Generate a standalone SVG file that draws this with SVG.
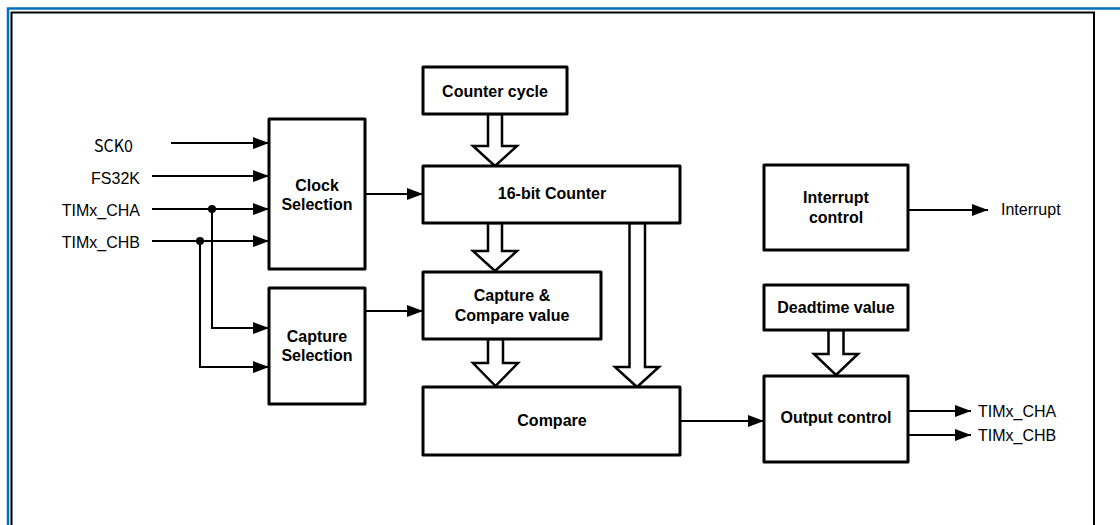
<svg xmlns="http://www.w3.org/2000/svg" width="1120" height="525" viewBox="0 0 1120 525">
<defs>
<marker id="arr" markerWidth="16" markerHeight="12" refX="16" refY="6" orient="auto" markerUnits="userSpaceOnUse">
<path d="M0,0 L16,6 L0,12 Z" fill="#000"/>
</marker>
<style>
.box{fill:#fff;stroke:#000;stroke-width:3;stroke-linejoin:round}
.bl{font-family:"Liberation Sans",Arial,sans-serif;font-weight:bold;font-size:16px;text-anchor:middle;fill:#000}
.lbl{font-family:"Liberation Sans",Arial,sans-serif;font-size:16px;fill:#000}
.ln{fill:none;stroke:#000;stroke-width:2}
.hol{fill:#fff;stroke:#000;stroke-width:2.5;stroke-linejoin:miter}
</style>
</defs>
<rect width="1120" height="525" fill="#fff"/>
<g id="frame">
<path d="M8,527 V8.5 H1122" fill="none" stroke="#0070C0" stroke-width="2.5"/>
<path d="M11.5,527 V12.5 H1094 V527" fill="none" stroke="#000" stroke-width="2"/>
</g>
<g id="labels">
<text x="133" y="152" font-family="'Noto Sans CJK SC',sans-serif" font-size="17" text-anchor="end" textLength="39" lengthAdjust="spacingAndGlyphs">SCK0</text>
<text class="lbl" x="140" y="184" text-anchor="end">FS32K</text>
<text class="lbl" x="140" y="216" text-anchor="end">TIMx_CHA</text>
<text class="lbl" x="140" y="248" text-anchor="end">TIMx_CHB</text>
<text class="lbl" x="1001" y="215">Interrupt</text>
<text class="lbl" x="978" y="417">TIMx_CHA</text>
<text class="lbl" x="978" y="441">TIMx_CHB</text>
</g>
<g id="connectors">
<line class="ln" x1="171" y1="143" x2="269" y2="143" marker-end="url(#arr)"/>
<line class="ln" x1="152" y1="176" x2="269" y2="176" marker-end="url(#arr)"/>
<line class="ln" x1="152" y1="209" x2="269" y2="209" marker-end="url(#arr)"/>
<line class="ln" x1="152" y1="241" x2="269" y2="241" marker-end="url(#arr)"/>
<polyline class="ln" points="212,209 212,328 269,328" marker-end="url(#arr)"/>
<polyline class="ln" points="200,241 200,367 269,367" marker-end="url(#arr)"/>
<circle cx="212" cy="209" r="4" fill="#000"/>
<circle cx="200" cy="241" r="4" fill="#000"/>
<line class="ln" x1="365" y1="194" x2="423" y2="194" marker-end="url(#arr)"/>
<line class="ln" x1="365" y1="311" x2="423" y2="311" marker-end="url(#arr)"/>
<line class="ln" x1="680" y1="421" x2="764" y2="421" marker-end="url(#arr)"/>
<line class="ln" x1="908" y1="210" x2="988" y2="210" marker-end="url(#arr)"/>
<line class="ln" x1="908" y1="411" x2="971" y2="411" marker-end="url(#arr)"/>
<line class="ln" x1="908" y1="435" x2="971" y2="435" marker-end="url(#arr)"/>
<polygon class="hol" points="488,114 502,114 502,146 517,146 495,166 473,146 488,146"/>
<polygon class="hol" points="488,223 502,223 502,251 517,251 495,271 473,251 488,251"/>
<polygon class="hol" points="488,339 503,339 503,363 518,363 495.5,386 473,363 488,363"/>
<polygon class="hol" points="629.5,223 645,223 645,367 659,367 637,387 615,367 629.5,367"/>
<polygon class="hol" points="828.5,330 843.5,330 843.5,354 858,354 836,375 814,354 828.5,354"/>
</g>
<g id="clock-selection">
<rect class="box" x="269" y="119" width="96" height="150"/>
<text class="bl" x="317" y="191">Clock</text>
<text class="bl" x="317" y="210">Selection</text>
</g>
<g id="capture-selection">
<rect class="box" x="269" y="288" width="96" height="116"/>
<text class="bl" x="317" y="342">Capture</text>
<text class="bl" x="317" y="361">Selection</text>
</g>
<g id="counter-cycle">
<rect class="box" x="423" y="67" width="144" height="47"/>
<text class="bl" x="495" y="97">Counter cycle</text>
</g>
<g id="counter16">
<rect class="box" x="423" y="166" width="257" height="57"/>
<text class="bl" x="552" y="199">16-bit Counter</text>
</g>
<g id="capture-compare">
<rect class="box" x="423" y="272" width="178" height="67"/>
<text class="bl" x="512" y="301">Capture &amp;</text>
<text class="bl" x="512" y="321">Compare value</text>
</g>
<g id="compare">
<rect class="box" x="423" y="387" width="257" height="68"/>
<text class="bl" x="552" y="426">Compare</text>
</g>
<g id="interrupt-control">
<rect class="box" x="764" y="165" width="144" height="85"/>
<text class="bl" x="836" y="203">Interrupt</text>
<text class="bl" x="836" y="223">control</text>
</g>
<g id="deadtime">
<rect class="box" x="764" y="285" width="144" height="45"/>
<text class="bl" x="836" y="313">Deadtime value</text>
</g>
<g id="output-control">
<rect class="box" x="764" y="376" width="144" height="86"/>
<text class="bl" x="836" y="423">Output control</text>
</g>
</svg>
